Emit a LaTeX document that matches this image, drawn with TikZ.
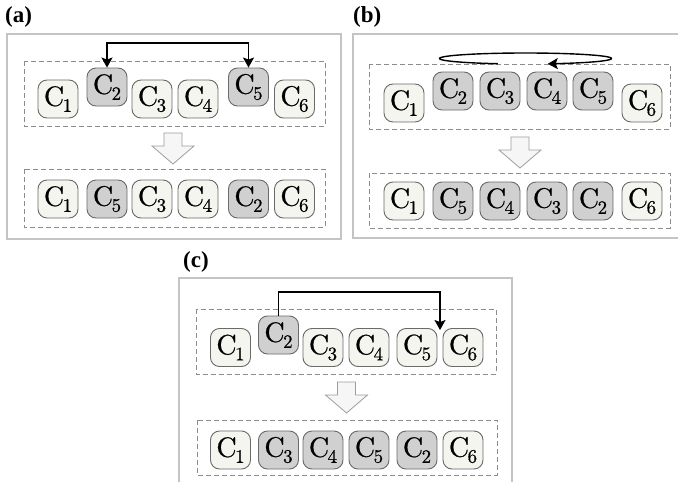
\documentclass[tikz,border=0pt]{standalone}
\usepackage{fontspec}
\newfontfamily\panelfont{Liberation Serif}
\newfontfamily\cellfont{lmroman10-regular.otf}[FakeBold=0.6]
\usetikzlibrary{arrows.meta}
\definecolor{cellpale}{HTML}{F3F5EE}
\definecolor{cellgray}{HTML}{D0D0D0}
\definecolor{celledge}{HTML}{6A6A6A}
\definecolor{framegray}{HTML}{C4C4C4}
\definecolor{dashgray}{HTML}{8C8C8C}
\definecolor{arrowfill}{HTML}{F6F6F6}
\definecolor{arrowedge}{HTML}{9C9C9C}
% cell label: upright C with a lowered index
\newcommand\clab[1]{C\kern-1.5pt\raisebox{-6pt}{\fontsize{19}{19}\selectfont #1}}

\begin{document}
\begin{tikzpicture}[x=1pt,y=-1pt,
  >={Stealth[length=10pt,width=11pt,inset=2pt]},
  cell/.style={draw=celledge, line width=0.9pt, rounded corners=9pt,
    minimum width=40pt, minimum height=38pt, inner sep=0pt,
    font=\cellfont\fontsize{28}{32}\selectfont},
  pale/.style={cell, fill=cellpale},
  dark/.style={cell, fill=cellgray},
  frame/.style={draw=framegray, line width=1.1pt},
  group/.style={draw=dashgray, line width=0.9pt, dash pattern=on 5pt off 3pt},
  link/.style={draw=black, line width=1.4pt},
  tag/.style={font=\panelfont\bfseries\fontsize{23}{26}\selectfont, inner sep=0pt},
  downarrow/.pic={\draw[draw=arrowedge, fill=arrowfill, line width=0.8pt]
    (-9,0) -- (9,0) -- (9,13) -- (21,13) -- (0,31) -- (-21,13) -- (-9,13) -- cycle;}
]
\useasboundingbox (0,0) rectangle (678,482);

% panel frames
\draw[frame] (7,34) rectangle (341,239);
\draw[frame] (678,34) -- (353,34) -- (353,238) -- (678,238);
\draw[frame] (179,482) -- (179,278) -- (512,278) -- (512,482);

% panel tags
\node[tag, anchor=west] (ta) at (5,17) {(a)};
\node[tag, anchor=west] (tb) at (353,17) {(b)};
\node[tag, anchor=west] (tc) at (183,262) {(c)};

% dashed groups
\draw[group] (24,61) rectangle (325,126);
\draw[group] (24,169) rectangle (325,227);
\draw[group] (369,64) rectangle (670,129);
\draw[group] (369,173) rectangle (670,228);
\draw[group] (196,309) rectangle (496,374);
\draw[group] (197,420) rectangle (497,475);

% (a) swap
\node[pale] (a1) at (58,99) {\clab1};
\node[dark] (a2) at (107,87) {\clab2};
\node[pale] (a3) at (152,99) {\clab3};
\node[pale] (a4) at (198,99) {\clab4};
\node[dark] (a5) at (248.5,87) {\clab5};
\node[pale] (a6) at (294.5,99) {\clab6};
\node[pale] (ra1) at (58,199) {\clab1};
\node[dark] (ra2) at (107,199) {\clab5};
\node[pale] (ra3) at (152,199) {\clab3};
\node[pale] (ra4) at (198,199) {\clab4};
\node[dark] (ra5) at (248.5,199) {\clab2};
\node[pale] (ra6) at (294.5,199) {\clab6};
\pic at (173,133) {downarrow};
\coordinate (alev) at (0,43);
\draw[link, <->] (a2.north) -- (a2.north |- alev) -| (a5.north);

% (b) inversion
\node[pale] (b1) at (404,103) {\clab1};
\node[dark] (b2) at (453,91) {\clab2};
\node[dark] (b3) at (500,91) {\clab3};
\node[dark] (b4) at (547,91) {\clab4};
\node[dark] (b5) at (593,91) {\clab5};
\node[pale] (b6) at (642,103) {\clab6};
\node[pale] (rb1) at (404,201) {\clab1};
\node[dark] (rb2) at (453,201) {\clab5};
\node[dark] (rb3) at (500,201) {\clab4};
\node[dark] (rb4) at (547,201) {\clab3};
\node[dark] (rb5) at (593,201) {\clab2};
\node[pale] (rb6) at (642,201) {\clab6};
\pic at (520,137) {downarrow};
\draw[link, ->] plot[domain=108.7:435, samples=160]
  ({525.5+86*cos(\x)},{58.5+5.5*sin(\x)});

% (c) insertion
\node[pale] (c1) at (230.5,347.5) {\clab1};
\node[dark] (c2) at (278.5,335) {\clab2};
\node[pale] (c3) at (323,347.5) {\clab3};
\node[pale] (c4) at (369,347.5) {\clab4};
\node[pale] (c5) at (417,347.5) {\clab5};
\node[pale] (c6) at (463,347.5) {\clab6};
\node[pale] (rc1) at (230.5,450) {\clab1};
\node[dark] (rc2) at (278.5,450) {\clab3};
\node[dark] (rc3) at (323,450) {\clab4};
\node[dark] (rc4) at (369,450) {\clab5};
\node[dark] (rc5) at (417,450) {\clab2};
\node[pale] (rc6) at (463,450) {\clab6};
\pic at (346.5,382) {downarrow};
\coordinate (clev) at (0,292);
\coordinate (cend) at (440,330);
\draw[link, ->] (c2.north) -- (c2.north |- clev) -| (cend);
\end{tikzpicture}
\end{document}
